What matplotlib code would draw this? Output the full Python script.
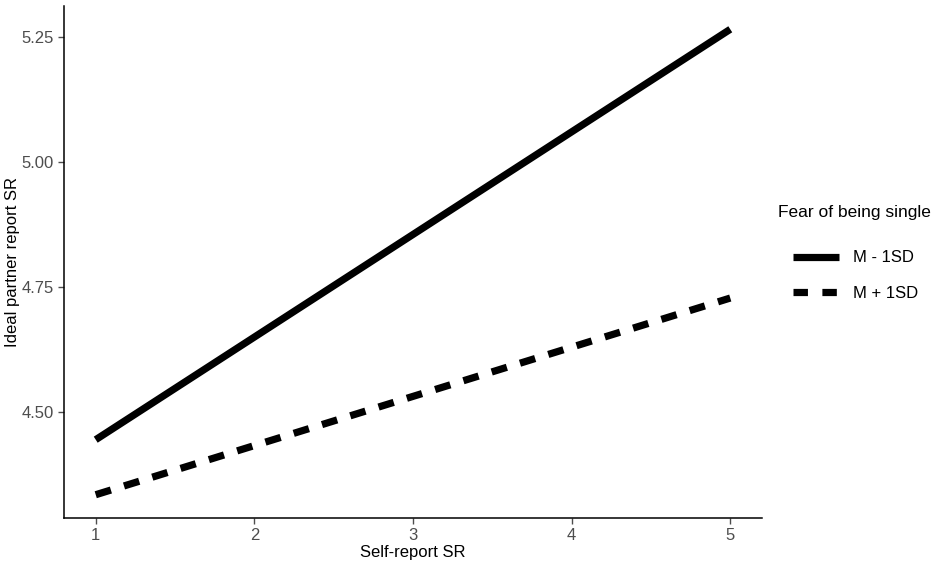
import matplotlib.pyplot as plt
from matplotlib.lines import Line2D

plt.rcParams['font.family'] = ['Liberation Sans', 'DejaVu Sans']

# values
self_report = [1, 5]
low_fear = [4.445, 5.265]   # M - 1SD
high_fear = [4.335, 4.728]  # M + 1SD
group_labels = ["M - 1SD", "M + 1SD"]
legend_title = "Fear of being single"
x_ticks = [1, 2, 3, 4, 5]
y_ticks = [4.50, 4.75, 5.00, 5.25]

fig = plt.figure(figsize=(9.35, 5.66), dpi=100)
ax = fig.add_axes([64 / 935, 48 / 566, 698 / 935, 512 / 566])

ax.plot(self_report, low_fear, color="black", lw=5.2, solid_capstyle="butt")
ax.plot(self_report, high_fear, color="black", lw=5.2,
        dashes=(2.2, 1.9), dash_capstyle="butt")

# ggplot style 5% expansion
ymin = min(low_fear + high_fear)
ymax = max(low_fear + high_fear)
pad = (ymax - ymin) * 0.05
ax.set_ylim(ymin - pad, ymax + pad)
ax.set_xlim(0.8, 5.2)

ax.set_xticks(x_ticks)
ax.set_yticks(y_ticks)
ax.set_yticklabels(["%.2f" % v for v in y_ticks])
ax.tick_params(colors="#4D4D4D", labelsize=12, length=4, width=1)
for s in ["top", "right"]:
    ax.spines[s].set_visible(False)
for s in ["left", "bottom"]:
    ax.spines[s].set_linewidth(1.1)

ax.set_xlabel("Self-report SR", fontsize=12, labelpad=1)
ax.set_ylabel("Ideal partner report SR", fontsize=12)
ax.yaxis.set_label_coords(-0.063, 0.5)

fig.text(778 / 935, 1 - 213 / 566, legend_title, fontsize=12.5,
         ha="left", va="center")
handles = [
    Line2D([], [], color="black", lw=5.2, solid_capstyle="butt"),
    Line2D([], [], color="black", lw=5.2, dashes=(2.0, 2.0), dash_capstyle="butt"),
]
leg = fig.legend(handles, group_labels,
                 loc="upper left", bbox_to_anchor=(780 / 935, 1 - 237 / 566),
                 frameon=False, fontsize=12, borderpad=0.3,
                 handlelength=2.75, labelspacing=1.25, handletextpad=0.84)

fig.savefig("out.png", dpi=100)
